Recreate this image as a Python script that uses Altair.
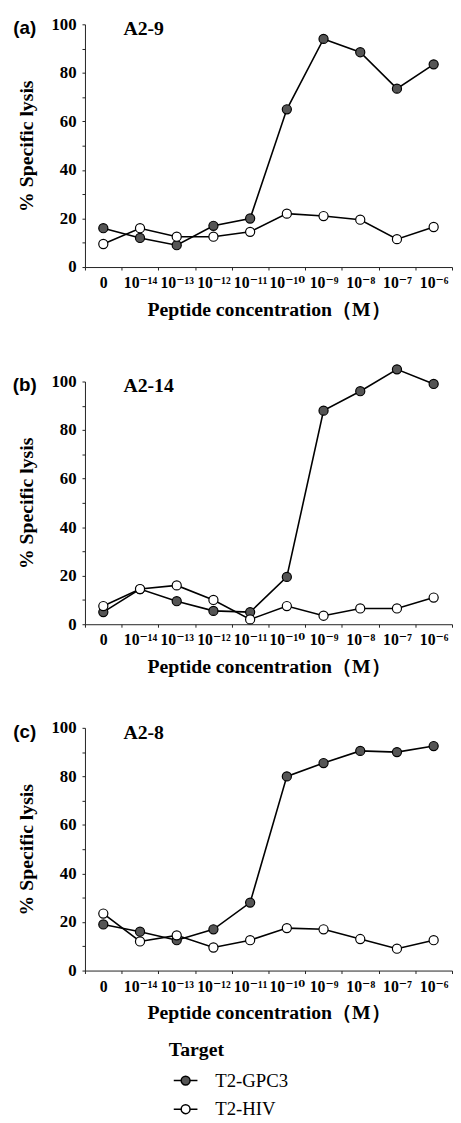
import altair as alt
import pandas as pd

conc = ["0", "10⁻¹⁴", "10⁻¹³", "10⁻¹²", "10⁻¹¹", "10⁻¹⁰", "10⁻⁹", "10⁻⁸", "10⁻⁷", "10⁻⁶"]
series = ["T2-GPC3", "T2-HIV"]

a_gpc3 = [16, 12, 9, 17, 20, 65, 94, 88.5, 73.5, 83.5]
a_hiv = [9.5, 16, 12.5, 12.5, 14.5, 22, 21, 19.5, 11.5, 16.5]
b_gpc3 = [5, 14.5, 9.5, 5.5, 5, 19.5, 88, 96, 105, 99]
b_hiv = [7.5, 14.5, 16, 10, 2, 7.5, 3.5, 6.5, 6.5, 11]
c_gpc3 = [19, 16, 12.5, 17, 28, 80, 85.5, 90.5, 90, 92.5]
c_hiv = [23.5, 12, 14.5, 9.5, 12.5, 17.5, 17, 13, 9, 12.5]

tags = ["(a)", "(b)", "(c)"]
names = ["A2-9", "A2-14", "A2-8"]

SERIF = "Liberation Serif, DejaVu Serif"
SANS = "Liberation Sans"
W, H = 372, 246

# legend glyph: a short line with a circle on it (unit = 7.5 px)
legend_path = ("M-0.6,0 L0.4,0 M1.6,0 L2.6,0 "
               "M1.6,0 A0.6,0.6 0 1,1 0.4,0 A0.6,0.6 0 1,1 1.6,0 Z")


def panel(tag, name, gpc3, hiv, with_legend):
    rows = []
    for i, c in enumerate(conc):
        rows.append({"conc": c, "target": series[0], "lysis": gpc3[i]})
        rows.append({"conc": c, "target": series[1], "lysis": hiv[i]})
    df = pd.DataFrame(rows)

    x = alt.X(
        "conc:N", sort=conc, bandPosition=0.5,
        scale=alt.Scale(type="band", paddingInner=0, paddingOuter=0),
        axis=alt.Axis(title="Peptide concentration（M）", labelAngle=0,
                      tickBand="extent", tickSize=3, labelPadding=5,
                      labelFontSize=16, titlePadding=9, titleFontSize=20),
    )
    y = alt.Y(
        "lysis:Q", scale=alt.Scale(domain=[0, 100], nice=False),
        axis=alt.Axis(title="% Specific lysis", values=list(range(0, 101, 10)),
                      labelExpr="datum.value % 20 == 0 ? datum.label : ''",
                      tickSize=3, labelPadding=6, labelFontSize=17,
                      titlePadding=15, titleFontSize=20),
    )
    if with_legend:
        leg = alt.Legend(
            title="Target", orient="none", legendX=85, legendY=317,
            direction="vertical", symbolType=legend_path, symbolSize=225,
            symbolStrokeColor="black", symbolStrokeWidth=1.5,
            titleFont=SERIF, titleFontSize=20, titleFontWeight="bold",
            titleColor="black", labelFont=SERIF, labelFontSize=19,
            labelColor="black", rowPadding=9, labelOffset=28, titlePadding=11,
            padding=0,
        )
    else:
        leg = None

    base = alt.Chart(df)
    line = base.mark_line(color="black", strokeWidth=1.6).encode(
        x=x, y=y, detail="target:N")
    pts = base.mark_circle(size=85, stroke="black", strokeWidth=1.2, opacity=1).encode(
        x=x, y=y,
        fill=alt.Fill("target:N", scale=alt.Scale(domain=series, range=["#555555", "white"]),
                      legend=leg),
    )
    tag_t = alt.Chart(pd.DataFrame({"t": [tag]})).mark_text(
        font=SANS, fontSize=19, fontWeight="bold", align="center", baseline="middle",
        color="black").encode(text="t:N", x=alt.value(-61), y=alt.value(4))
    name_t = alt.Chart(pd.DataFrame({"t": [name]})).mark_text(
        font=SERIF, fontSize=20, fontWeight="bold", align="left", baseline="middle",
        color="black").encode(text="t:N", x=alt.value(39), y=alt.value(5))
    return alt.layer(line, pts, tag_t, name_t).properties(width=W, height=H)


pa = panel(tags[0], names[0], a_gpc3, a_hiv, False)
pb = panel(tags[1], names[1], b_gpc3, b_hiv, False)
pc = panel(tags[2], names[2], c_gpc3, c_hiv, True)

chart = alt.vconcat(
    alt.vconcat(pa, pb, spacing=43), pc, spacing=43
).resolve_legend(fill="independent").properties(
    padding={"left": 4, "top": 0, "right": 0, "bottom": 0}
).configure_view(stroke=None).configure_axis(
    grid=False, domainColor="#222222", tickColor="#222222", domainWidth=1,
    labelFont=SERIF, labelFontWeight="bold", labelColor="black",
    titleFont=SERIF, titleFontWeight="bold", titleColor="black",
)

chart.save("out.html", embed_options={"renderer": "svg", "actions": False})
